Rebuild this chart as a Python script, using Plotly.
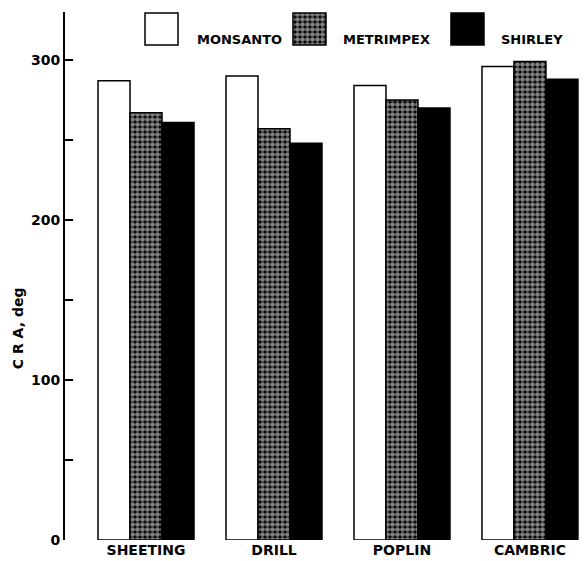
import plotly.graph_objects as go

categories = ["SHEETING", "DRILL", "POPLIN", "CAMBRIC"]
series_names = ["MONSANTO", "METRIMPEX", "SHIRLEY"]
monsanto = [287, 290, 284, 296]
metrimpex = [267, 257, 275, 299]
shirley = [261, 248, 270, 288]
y_tick_vals = [0, 50, 100, 150, 200, 250, 300]
y_tick_text = ["0", "", "100", "", "200", "", "300"]
y_title = "C R A, deg"

FONT = "DejaVu Sans"
W, H = 585, 561
ML, MR, MT, MB = 65, 0, 12, 21

dots = dict(shape=".", fgcolor="white", bgcolor="black", size=5, solidity=0.7)
styles = [
    dict(color="white", pattern=dict(shape="")),
    dict(color="black", pattern=dots),
    dict(color="black", pattern=dict(shape="")),
]

fig = go.Figure()
for name, vals, st in zip(series_names, [monsanto, metrimpex, shirley], styles):
    fig.add_trace(go.Bar(
        x=categories, y=vals, name=name,
        marker=dict(color=st["color"], pattern=st["pattern"], line=dict(color="black", width=1.5)),
        showlegend=False,
    ))

# custom legend swatches (layout positions in plot-area fractions)
leg_cx = [0.1856, 0.4702, 0.774]
leg_w = 0.0635
leg_base = 0.9375
leg_h = 0.0606
fig.add_trace(go.Bar(
    x=leg_cx, y=[leg_h] * 3, base=[leg_base] * 3, width=[leg_w] * 3,
    xaxis="x2", yaxis="y2", showlegend=False, hoverinfo="skip",
    marker=dict(
        color=["white", "black", "black"],
        pattern=dict(shape=["", ".", ""], fgcolor="white", bgcolor="black", size=5, solidity=0.7),
        line=dict(color="black", width=1.5),
    ),
))
leg_tx = [0.25, 0.5308, 0.8346]
for name, tx in zip(series_names, leg_tx):
    fig.add_annotation(x=tx, y=0.948, xref="paper", yref="paper", text=name,
                       showarrow=False, xanchor="left", yanchor="middle",
                       font=dict(family=FONT, size=13, color="black", weight="bold"))

# y-axis title placed as rotated text
fig.add_annotation(x=-0.09, y=0.4015, xref="paper", yref="paper", text=y_title,
                   showarrow=False, textangle=-90, xanchor="center", yanchor="middle",
                   font=dict(family=FONT, size=14, color="black", weight="bold"))

fig.update_layout(
    width=W, height=H,
    margin=dict(l=ML, r=MR, t=MT, b=MB, pad=0),
    plot_bgcolor="white", paper_bgcolor="white",
    barmode="group", bargap=0.25, bargroupgap=0,
    xaxis=dict(type="category", categoryorder="array", categoryarray=categories,
               range=[-0.633, 3.43], showline=False, ticks="", showgrid=False, zeroline=False,
               tickfont=dict(family=FONT, size=14, color="black", weight="bold")),
    yaxis=dict(range=[0, 330], tickvals=y_tick_vals, ticktext=y_tick_text,
               ticks="inside", ticklen=8, tickwidth=1.5, tickcolor="black",
               showline=True, linewidth=2, linecolor="black", showgrid=False, zeroline=False,
               tickfont=dict(family=FONT, size=14, color="black", weight="bold")),
    xaxis2=dict(overlaying="x", range=[0, 1], visible=False, anchor="y2"),
    yaxis2=dict(overlaying="y", range=[0, 1], visible=False, anchor="x2"),
)

fig.write_html("out.html")
